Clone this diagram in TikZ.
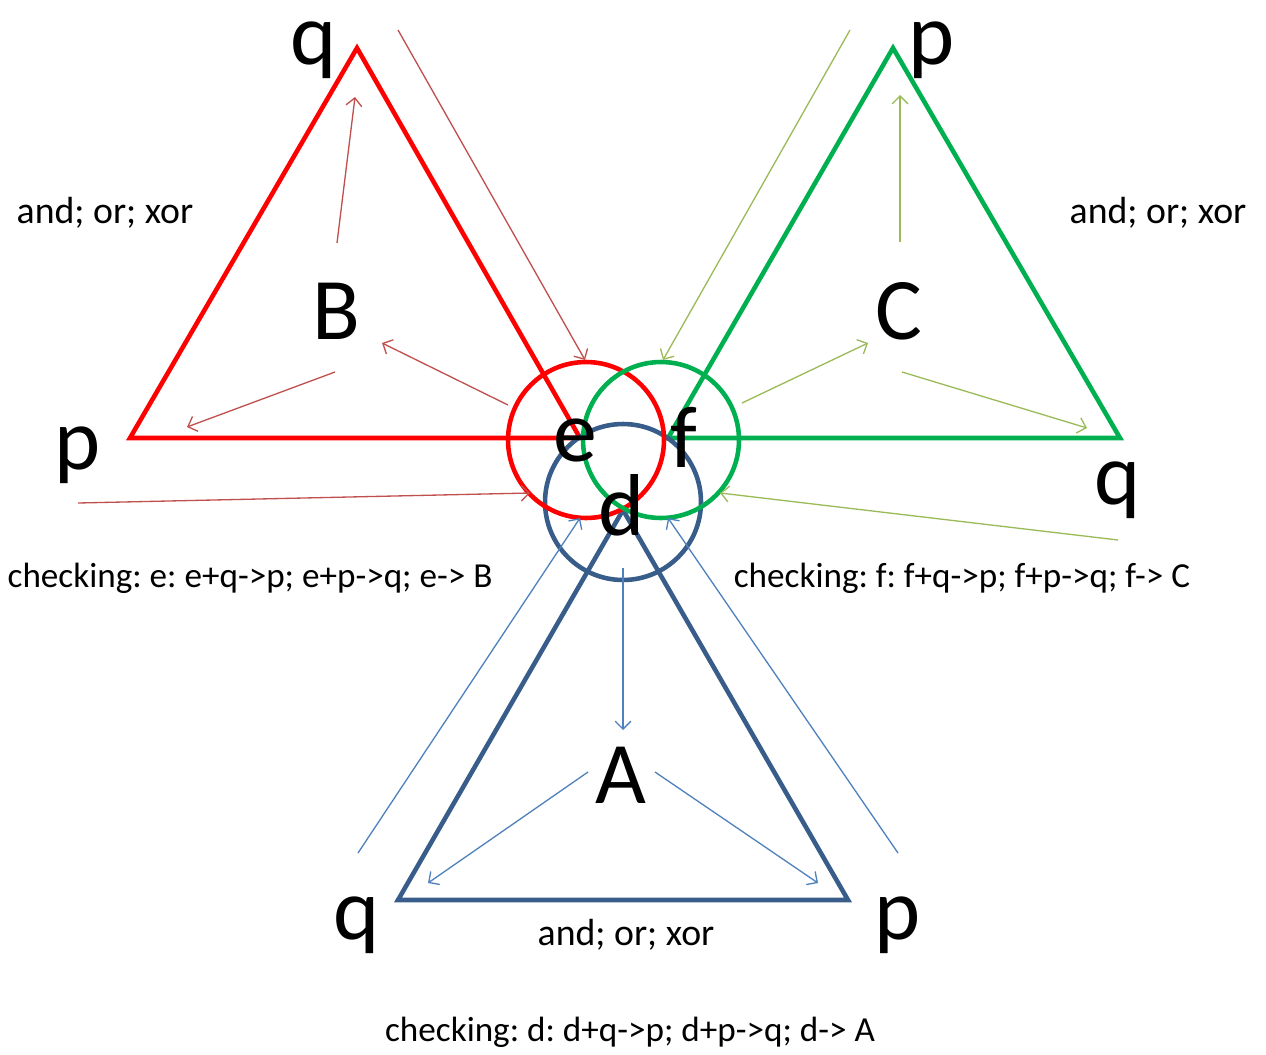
\documentclass[tikz,border=0pt]{standalone}
\usepackage{fontspec}
\setmainfont{Carlito}
\usetikzlibrary{arrows.meta}
\definecolor{tred}{HTML}{FF0000}
\definecolor{tgreen}{HTML}{00B050}
\definecolor{tblue}{HTML}{385D8A}
\definecolor{ared}{HTML}{C0504D}
\definecolor{agreen}{HTML}{9BBB59}
\definecolor{ablue}{HTML}{4F81BD}
\frenchspacing
\begin{document}
\begin{tikzpicture}[x=0.02cm,y=-0.02cm,
  tri/.style={line width=2.6pt, line join=miter},
  ring/.style={circle, draw, line width=2.6pt, minimum size=3.12cm, inner sep=0pt},
  big/.style={font=\fontsize{50}{60}\selectfont, inner sep=0pt},
  small/.style={font=\fontsize{20}{24}\selectfont, inner sep=0pt},
  ops/.style={font=\fontsize{21.5}{26}\selectfont, inner sep=0pt},
  thin/.style={line width=0.75pt, -{Straight Barb[length=4.5pt,width=9pt]}}]
\useasboundingbox (0,0) rectangle (1266,1054);
% vertices
\coordinate (Rp) at (130,438);
\coordinate (Rq) at (357,48);
\coordinate (Re) at (580,438);
\coordinate (Gf) at (668,438);
\coordinate (Gp) at (893,48);
\coordinate (Gq) at (1120,438);
\coordinate (Bq) at (398,900);
\coordinate (Bp) at (848,900);
\coordinate (Bd) at (623,510);
% triangles
\draw[tri, tblue] (Bq) -- (Bd) -- (Bp) -- cycle;
\draw[tri, tred] (Rp) -- (Rq) -- (Re) -- cycle;
\draw[tri, tgreen] (Gf) -- (Gp) -- (Gq) -- cycle;
% circles
\node[ring, draw=tblue] (cd) at (623,502) {};
\node[ring, draw=tred] (ce) at (586,440) {};
\node[ring, draw=tgreen] (cf) at (661,440) {};
% big letters
\node[big] (lq1) at (314,50) {q};
\node[big] (lp1) at (78,455) {p};
\node[big] (lB) at (336,311) {B};
\node[big] (lp2) at (932,50) {p};
\node[big] (lq2) at (1118,490) {q};
\node[big] (lC) at (899,311) {C};
\node[big] (lq3) at (357,925) {q};
\node[big] (lp3) at (898,925) {p};
\node[big] (lA) at (621,775) {A};
\node[big] (le) at (575,440) {e};
\node[big] (lf) at (684,437) {f};
\node[big] (ld) at (622,505) {d};
% small texts
\node[ops] (o1) at (105,213) {and; or; xor};
\node[ops] (o2) at (1158,213) {and; or; xor};
\node[ops] (o3) at (626,935) {and; or; xor};
\node[small] (c1) at (250,578) {checking: e: e+q->p; e+p->q; e-> B};
\node[small] (c2) at (962,578) {checking: f: f+q->p; f+p->q; f-> C};
\node[small] (c3) at (630,1032) {checking: d: d+q->p; d+p->q; d-> A};
% arrow end points
\coordinate (r1a) at (337,243); \coordinate (r1b) at (355,97);
\coordinate (r2a) at (335,372); \coordinate (r2b) at (187,427);
\coordinate (r3a) at (508,405); \coordinate (r3b) at (382,343);
\coordinate (r4a) at (398,30);  \coordinate (r4b) at (585,360);
\coordinate (r5a) at (78,503);  \coordinate (r5b) at (530,493);
\coordinate (g1a) at (900,242); \coordinate (g1b) at (900,95);
\coordinate (g2a) at (742,403); \coordinate (g2b) at (868,343);
\coordinate (g3a) at (902,372); \coordinate (g3b) at (1087,428);
\coordinate (g4a) at (850,30);  \coordinate (g4b) at (663,360);
\coordinate (g5a) at (1118,540); \coordinate (g5b) at (720,493);
\coordinate (b1a) at (623,568); \coordinate (b1b) at (623,730);
\coordinate (b2a) at (588,772); \coordinate (b2b) at (428,883);
\coordinate (b3a) at (655,772); \coordinate (b3b) at (818,883);
\coordinate (b4a) at (358,853); \coordinate (b4b) at (580,518);
\coordinate (b5a) at (898,853); \coordinate (b5b) at (668,518);
% thin arrows
\foreach \i in {1,...,5} {
  \draw[thin, ared] (r\i a) -- (r\i b);
  \draw[thin, agreen] (g\i a) -- (g\i b);
  \draw[thin, ablue] (b\i a) -- (b\i b);
}
\end{tikzpicture}
\end{document}
